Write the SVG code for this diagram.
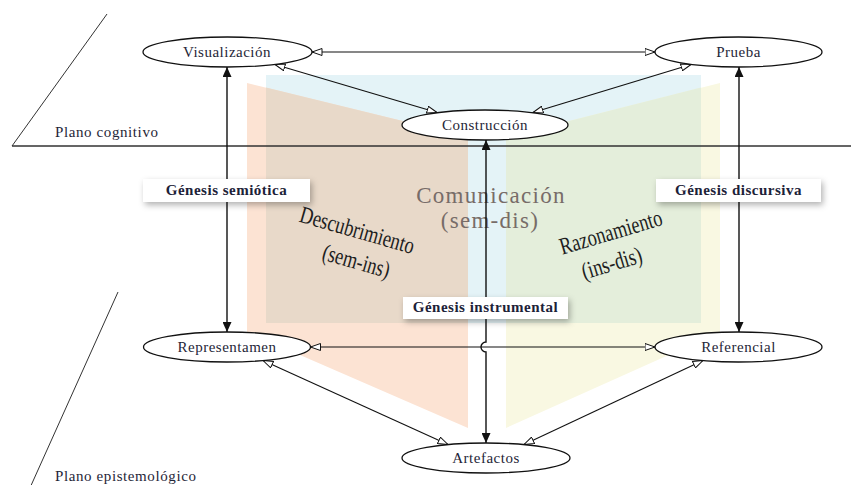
<svg xmlns="http://www.w3.org/2000/svg" width="851" height="485" viewBox="0 0 851 485">
<style>
.node ellipse{fill:#fff;stroke:#111;stroke-width:1.3}
.node text{font-family:"Liberation Serif",serif;font-size:15px;letter-spacing:0.5px;fill:#1f2638;text-anchor:middle}
.plane{stroke:#333;stroke-width:1;fill:none}
.ptext{font-family:"Liberation Serif",serif;font-size:15px;letter-spacing:0.6px;fill:#1f2638}
.edge{stroke:#111;stroke-width:1.1;fill:none}
.open{marker-start:url(#ho);marker-end:url(#ho)}
.solid{stroke-width:1.4;marker-start:url(#hf);marker-end:url(#hf)}
.gbox rect{fill:#fff;filter:url(#sh)}
.gbox text{font-family:"Liberation Serif",serif;font-weight:bold;font-size:15px;letter-spacing:0.5px;fill:#1c2238;text-anchor:middle}
.big{font-family:"Liberation Serif",serif;font-size:24px;fill:#1e1e1e;text-anchor:middle}
.com{font-family:"Liberation Serif",serif;font-size:23px;letter-spacing:1.3px;fill:#776c68;text-anchor:middle}
</style>
<defs>
<marker id="ho" viewBox="0 0 11 8" refX="10.5" refY="4" markerWidth="11" markerHeight="8" markerUnits="userSpaceOnUse" orient="auto-start-reverse">
<path d="M0.5,0.5 L10.5,4 L0.5,7.5 z" fill="#fff" stroke="#111" stroke-width="1"/>
</marker>
<marker id="hf" viewBox="0 0 10 9" refX="10" refY="4.5" markerWidth="10" markerHeight="9" markerUnits="userSpaceOnUse" orient="auto-start-reverse">
<path d="M0,0 L10,4.5 L0,9 z" fill="#111"/>
</marker>
<filter id="sh" x="-20%" y="-50%" width="140%" height="220%">
<feDropShadow dx="2" dy="3" stdDeviation="3" flood-color="#000" flood-opacity="0.3"/>
</filter>
</defs>

<g id="background">
<rect x="266" y="75" width="435" height="248" fill="#e4f3f7"/>
<polygon points="247,83 468,137 468,428 247,332" fill="#fce3d3"/>
<polygon points="266,87.6 468,137 468,323 266,323" fill="#e8d9c9"/>
<polygon points="720,83 506,137 506,428 720,332" fill="#f9f8e2"/>
<polygon points="701,87.6 506,137 506,323 701,323" fill="#e4eedb"/>
</g>

<g id="planes">
<path class="plane" d="M107,14 L12,146 L851,146"/>
<line class="plane" x1="12" y1="146" x2="851" y2="146" stroke="#555" stroke-width="1.3"/>
<line class="plane" x1="118" y1="292" x2="29" y2="490"/>
<text class="ptext" x="55" y="137">Plano cognitivo</text>
<text class="ptext" x="55" y="481">Plano epistemológico</text>
</g>

<g id="areas">
<text class="com" x="491" y="203">Comunicación</text>
<text class="com" x="490" y="228">(sem-dis)</text>
<g transform="translate(357,231) rotate(16)"><text class="big" x="0" y="7" textLength="118" lengthAdjust="spacingAndGlyphs">Descubrimiento</text></g>
<g transform="translate(356,262) rotate(16)"><text class="big" x="0" y="7" textLength="69" lengthAdjust="spacingAndGlyphs">(sem-ins)</text></g>
<g transform="translate(611,233) rotate(-16.5)"><text class="big" x="0" y="7" textLength="106" lengthAdjust="spacingAndGlyphs">Razonamiento</text></g>
<g transform="translate(612,264) rotate(-16.5)"><text class="big" x="0" y="7" textLength="62" lengthAdjust="spacingAndGlyphs">(ins-dis)</text></g>
</g>

<g id="connectors">
<line class="edge open" x1="312" y1="52" x2="655" y2="52"/>
<line class="edge open" x1="275" y1="64.5" x2="437" y2="112.5"/>
<line class="edge open" x1="691" y1="64.5" x2="533" y2="112.5"/>
<line class="edge open" x1="310.5" y1="347" x2="655" y2="347"/>
<line class="edge open" x1="263" y1="360.5" x2="448" y2="444.5"/>
<line class="edge open" x1="703" y1="360.5" x2="524" y2="444.5"/>
<line class="edge solid" x1="227" y1="67" x2="227" y2="332"/>
<line class="edge solid" x1="739" y1="67" x2="739" y2="332"/>
<path class="edge solid" d="M486,140 V342 A5,5 0 0 0 486,352 V443"/>
</g>

<g id="genesis-semiotica" class="gbox">
<rect x="143" y="179" width="167" height="23"/>
<text x="226.5" y="195">Génesis semiótica</text>
</g>
<g id="genesis-discursiva" class="gbox">
<rect x="656" y="179" width="165" height="23"/>
<text x="738.5" y="195">Génesis discursiva</text>
</g>
<g id="genesis-instrumental" class="gbox">
<rect x="403" y="297" width="165" height="22"/>
<text x="485.5" y="312">Génesis instrumental</text>
</g>

<g id="visualizacion" class="node">
<ellipse cx="227.5" cy="52" rx="84.5" ry="15"/>
<text x="227" y="57">Visualización</text>
</g>
<g id="prueba" class="node">
<ellipse cx="738.5" cy="52" rx="83.5" ry="15"/>
<text x="738.5" y="57">Prueba</text>
</g>
<g id="construccion" class="node">
<ellipse cx="485" cy="125" rx="83" ry="15"/>
<text x="485" y="130">Construcción</text>
</g>
<g id="representamen" class="node">
<ellipse cx="227" cy="347" rx="83.5" ry="15"/>
<text x="227" y="352">Representamen</text>
</g>
<g id="referencial" class="node">
<ellipse cx="738.5" cy="347" rx="83.5" ry="15"/>
<text x="738.5" y="352">Referencial</text>
</g>
<g id="artefactos" class="node">
<ellipse cx="486" cy="458" rx="84" ry="15"/>
<text x="486" y="463">Artefactos</text>
</g>
</svg>
